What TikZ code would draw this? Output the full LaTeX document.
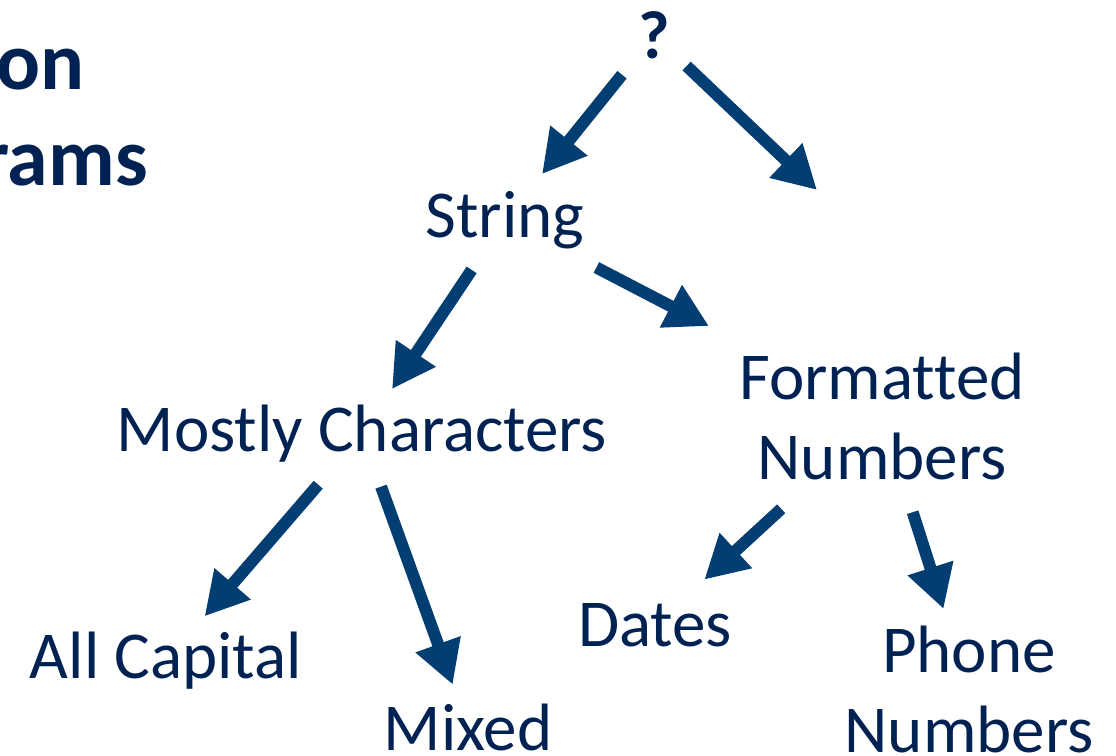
\documentclass[tikz,border=0pt]{standalone}
\usepackage{fontspec}
\setmainfont{Carlito}[Ligatures=NoCommon]
\usetikzlibrary{arrows.meta}
\definecolor{txtblue}{RGB}{0,34,82}
\definecolor{arrblue}{RGB}{3,62,114}
\begin{document}
\begin{tikzpicture}[x=1pt,y=-1pt,
    lbl/.style={inner sep=0pt, text=txtblue, align=center, font=\fontsize{67}{80}\selectfont},
    ttl/.style={inner sep=0pt, text=txtblue, anchor=base east, font=\fontsize{82}{96}\selectfont\bfseries},
    arr/.style={line width=12pt, arrblue, -{Triangle[length=43pt,width=45pt]}}]
\useasboundingbox (0,0) rectangle (1116,755);

% cut-off title on the left
\node[ttl] (t1) at (85,89) {on};
\node[ttl] (t2) at (148,185) {rams};

\node[lbl, font=\fontsize{68}{80}\selectfont\bfseries] (q) at (654,35) {?};
\coordinate (rt) at (817,190);
\node[lbl] (str) at (505,220) {String};
\node[lbl] (mc) at (362,434) {Mostly Characters};
\node[lbl] (fn) at (882,416) {Formatted\\Numbers};
\node[lbl] (ac) at (166,661) {All Capital};
\node[lbl] (mx) at (468,727) {Mixed};
\node[lbl] (dt) at (655,625) {Dates};
\node[lbl] (ph) at (969,689) {Phone\\Numbers};

\draw[arr, shorten <=51pt, shorten >=59pt] (q.center) -- (str.center);
\draw[arr, shorten <=45pt] (q.center) -- (rt);
\draw[arr, shorten <=60pt, shorten >=54pt] (str.center) -- (mc.center);
\draw[arr, shorten <=103pt, shorten >=195pt] (str.center) -- (fn.center);
\draw[arr, shorten <=67pt, shorten >=59pt] (mc.center) -- (ac.center);
\draw[arr, shorten <=56pt, shorten >=45pt] (mc.center) -- (mx.center);
\draw[arr, shorten <=137pt, shorten >=67pt] (fn.center) -- (dt.center);
\draw[arr, shorten <=101pt, shorten >=84pt] (fn.center) -- (ph.center);

\end{tikzpicture}
\end{document}
